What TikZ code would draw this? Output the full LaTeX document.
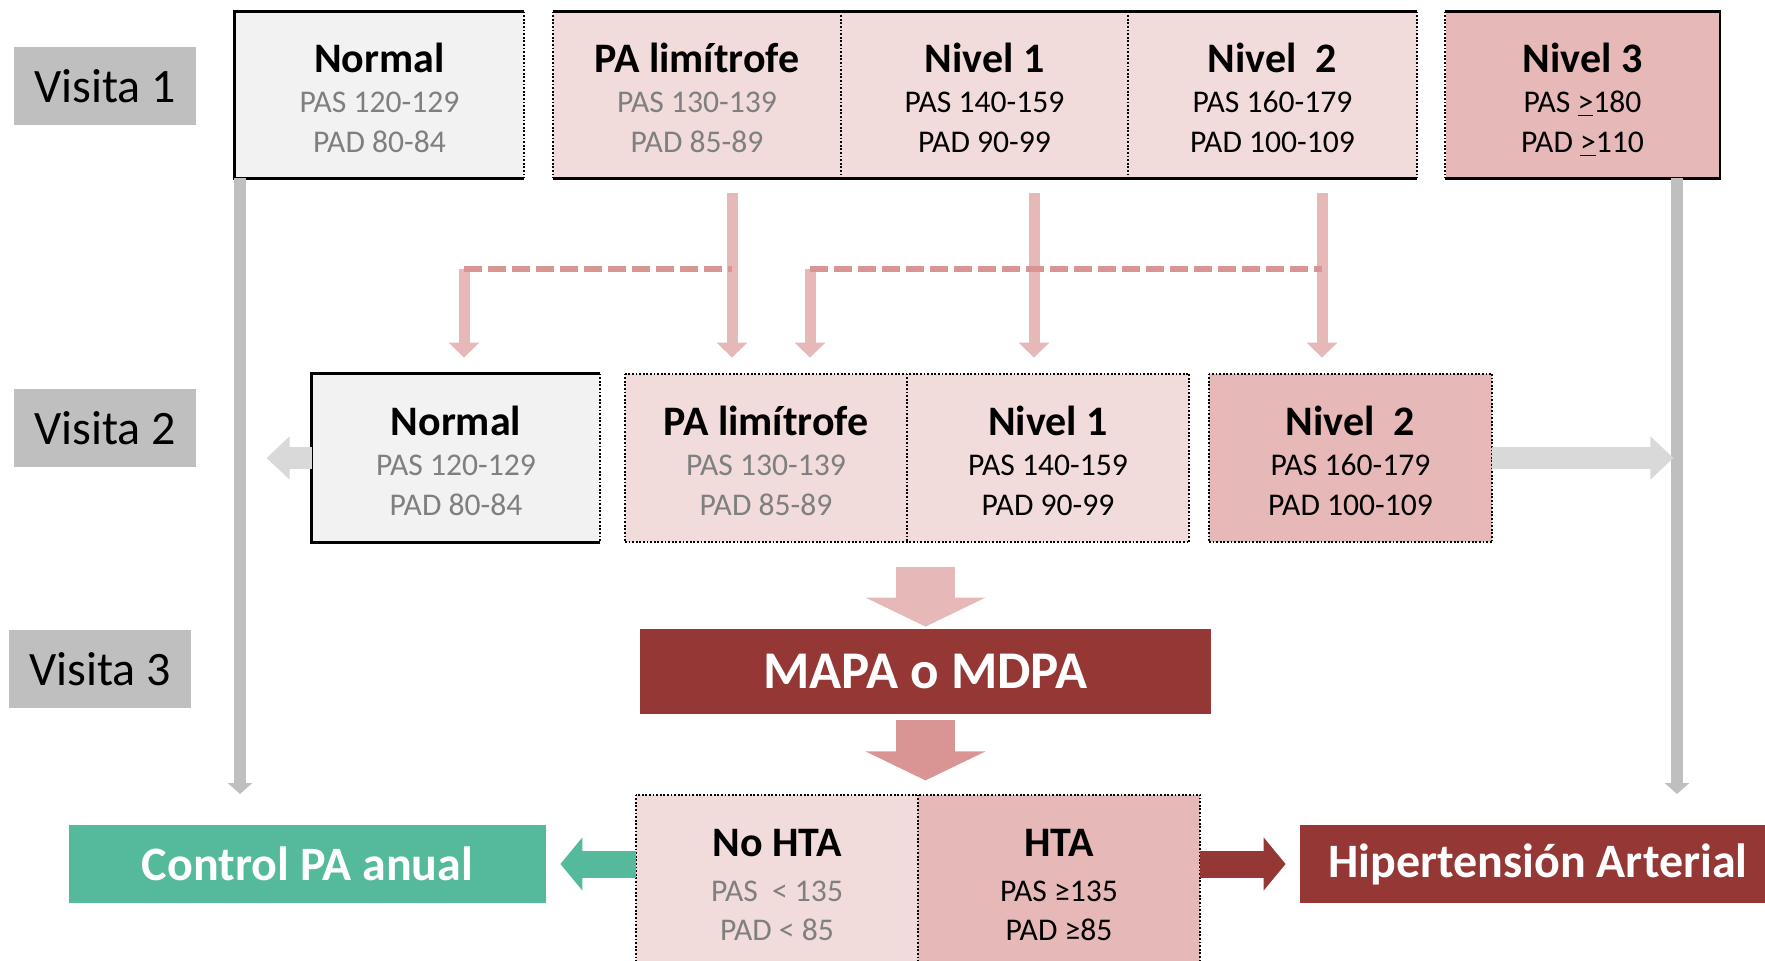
\documentclass[tikz,border=0pt]{standalone}
\usepackage{fontspec}
\setmainfont{Carlito}
\usetikzlibrary{arrows.meta}

\definecolor{visgray}{HTML}{BFBFBF}
\definecolor{nrmgray}{HTML}{F2F2F2}
\definecolor{pinklt}{HTML}{F2DCDB}
\definecolor{pinkmd}{HTML}{E6B9B8}
\definecolor{pinkdk}{HTML}{D99594}
\definecolor{darkred}{HTML}{953735}
\definecolor{ctrlgreen}{HTML}{55B99B}
\definecolor{subgray}{HTML}{7F7F7F}
\definecolor{arrgray}{HTML}{D9D9D9}

\newcommand{\bxtext}[4]{{\fontsize{21}{20}\selectfont\bfseries\rule{0pt}{18pt}#1}\\\textcolor{#2}{#3}\\\textcolor{#2}{#4}}

\begin{document}
\begin{tikzpicture}[x=0.5pt, y=-0.5pt, every node/.style={inner sep=0pt}]
  \tikzstyle{vis}=[fill=visgray,minimum width=91pt,minimum height=39pt,font=\fontsize{24}{28}\selectfont]
  \tikzstyle{bx}=[minimum height=83pt,align=center,font=\fontsize{15.8}{20}\selectfont]
  \tikzstyle{bx2}=[bx,minimum height=84pt]
  \tikzstyle{bx3}=[minimum height=90pt,align=center,font=\fontsize{15.8}{19.5}\selectfont]
  \tikzstyle{res}=[text=white,minimum height=39pt,font=\fontsize{24}{28}\selectfont\bfseries]
  \tikzstyle{sol}=[line width=1.2pt,black]
  \tikzstyle{dot}=[line width=1pt,black,dash pattern=on 0.9pt off 0.9pt]
  \tikzstyle{pk}=[line width=5.5pt,pinkmd,-{Triangle[width=15pt,length=7.5pt]}]
  \tikzstyle{pkdash}=[line width=3pt,pinkdk,dash pattern=on 9pt off 3pt]
  \tikzstyle{gline}=[line width=6pt,visgray,-{Triangle[width=12pt,length=5.5pt]}]
  \tikzstyle{gar}=[line width=11pt,arrgray,-{Triangle[width=21pt,length=11.5pt]}]
  \tikzstyle{big}=[line width=29.5pt,-{Triangle[width=59.5pt,length=14.5pt]}]
  \tikzstyle{side}=[line width=13.5pt,-{Triangle[width=26pt,length=11pt]}]

  \useasboundingbox (0,0) rectangle (1765,961);

  % visit labels
  \node[vis] (v1) at (105,86) {Visita 1};
  \node[vis] (v2) at (105,428.5) {Visita 2};
  \node[vis] (v3) at (100,669) {Visita 3};

  % visit 1
  \node[bx,fill=nrmgray,minimum width=144.5pt] (n1nor) at (379.5,95) {\bxtext{Normal}{subgray}{PAS 120-129}{PAD 80-84}};
  \node[bx,fill=pinklt,minimum width=144pt] (n1lim) at (697,95) {\bxtext{PA limítrofe}{subgray}{PAS 130-139}{PAD 85-89}};
  \node[bx,fill=pinklt,minimum width=143.5pt] (n1niv1) at (984.5,95) {\bxtext{Nivel 1}{black}{PAS 140-159}{PAD 90-99}};
  \node[bx,fill=pinklt,minimum width=144.5pt] (n1niv2) at (1272.5,95) {\bxtext{Nivel\ \ 2}{black}{PAS 160-179}{PAD 100-109}};
  \node[bx,fill=pinkmd,minimum width=137pt] (n1niv3) at (1582.5,95) {\bxtext{Nivel 3}{black}{PAS \smash{\underline{>}}180}{PAD \smash{\underline{>}}110}};

  % visit 2
  \node[bx2,fill=nrmgray,minimum width=144pt] (n2nor) at (456,458) {\bxtext{Normal}{subgray}{PAS 120-129}{PAD 80-84}};
  \node[bx2,fill=pinklt,minimum width=141pt] (n2lim) at (766,458) {\bxtext{PA limítrofe}{subgray}{PAS 130-139}{PAD 85-89}};
  \node[bx2,fill=pinklt,minimum width=141pt] (n2niv1) at (1048,458) {\bxtext{Nivel 1}{black}{PAS 140-159}{PAD 90-99}};
  \node[bx2,fill=pinkmd,minimum width=141.5pt] (n2niv2) at (1350.5,458) {\bxtext{Nivel\ \ 2}{black}{PAS 160-179}{PAD 100-109}};

  % visit 3
  \node[fill=darkred,text=white,minimum width=285.5pt,minimum height=42.5pt,font=\fontsize{26.5}{30}\selectfont\bfseries] (mapa) at (925.5,671.5) {MAPA o MDPA};
  \node[bx3,fill=pinklt,minimum width=141pt] (nohta) at (777,885) {{\fontsize{21}{20}\selectfont\bfseries No HTA}\\[3pt]\textcolor{subgray}{PAS\ \ < 135}\\\textcolor{subgray}{PAD < 85}};
  \node[bx3,fill=pinkmd,minimum width=141pt] (hta) at (1059,885) {{\fontsize{21}{20}\selectfont\bfseries HTA}\\[3pt]PAS ≥135\\PAD ≥85};
  \node[res,fill=ctrlgreen,minimum width=238.5pt] (ctrl) at (307.5,864) {Control PA anual};
  \node[res,fill=darkred,minimum width=238pt] (hipt) at (1538,864) {Hipertensión Arterial};

  % borders
  \draw[sol] (n1nor.north east) -- (n1nor.north west) -- (n1nor.south west) -- (n1nor.south east);
  \draw[dot] (n1nor.north east) -- (n1nor.south east);
  \draw[sol] (n1lim.north west) -- (n1niv2.north east);
  \draw[sol] (n1lim.south west) -- (n1niv2.south east);
  \draw[dot] (n1lim.north west) -- (n1lim.south west);
  \foreach \n in {n1lim,n1niv1,n1niv2}
    \draw[dot] (\n.north east) -- (\n.south east);
  \draw[sol] (n1niv3.north west) -- (n1niv3.north east) -- (n1niv3.south east) -- (n1niv3.south west);
  \draw[dot] (n1niv3.north west) -- (n1niv3.south west);
  \draw[sol] (n2nor.north east) -- (n2nor.north west) -- (n2nor.south west) -- (n2nor.south east);
  \draw[dot] (n2nor.north east) -- (n2nor.south east);
  \draw[dot] (n2lim.north west) rectangle (n2niv1.south east);
  \draw[dot] (n2lim.north east) -- (n2lim.south east);
  \draw[dot] (n2niv2.north west) rectangle (n2niv2.south east);
  \draw[dot] (nohta.north west) rectangle (hta.south east);
  \draw[dot] (nohta.north east) -- (nohta.south east);

  % side lines
  \coordinate (lend) at (240,794);
  \coordinate (rend) at (1677,794);
  \draw[gline] ([xshift=-69.75pt]n1nor.south) -- (lend);
  \draw[gline] ([xshift=47.25pt]n1niv3.south) -- (rend);
  \draw[gar] (n2nor.west) -- ([xshift=-22.5pt]n2nor.west);
  \draw[gar] (n2niv2.east) -- ([xshift=90.5pt]n2niv2.east);

  % visit 1 -> visit 2
  \coordinate (ja) at (732,269);
  \coordinate (jl) at (464,269);
  \coordinate (jc) at (1322,269);
  \coordinate (jr) at (810,269);
  \draw[pk] ([xshift=17.5pt,yshift=-7.5pt]n1lim.south) -- ([xshift=-17pt,yshift=8pt]n2lim.north);
  \draw[pk] ([xshift=24.75pt,yshift=-7.5pt]n1niv1.south) -- ([xshift=-7pt,yshift=8pt]n2niv1.north);
  \draw[pk] ([xshift=24.75pt,yshift=-7.5pt]n1niv2.south) -- ([xshift=-14.25pt,yshift=8pt]n2niv2.north);
  \draw[pk] (jl) -- ([xshift=4pt,yshift=8pt]n2nor.north);
  \draw[pk] (jr) -- ([xshift=22pt,yshift=8pt]n2lim.north);
  \draw[pkdash] (jl) -- (ja);
  \draw[pkdash] (jr) -- (jc);

  % visit 2 -> visit 3 -> result
  \draw[big,pinkmd] ([yshift=31pt]mapa.north) -- ([yshift=1pt]mapa.north);
  \draw[big,pinkdk] ([yshift=-3pt]mapa.south) -- ([yshift=-33pt]mapa.south);
  \draw[side,ctrlgreen] (nohta.west |- ctrl.east) -- ([xshift=7pt]ctrl.east);
  \draw[side,darkred] (hta.east |- hipt.west) -- ([xshift=-7pt]hipt.west);
\end{tikzpicture}
\end{document}
